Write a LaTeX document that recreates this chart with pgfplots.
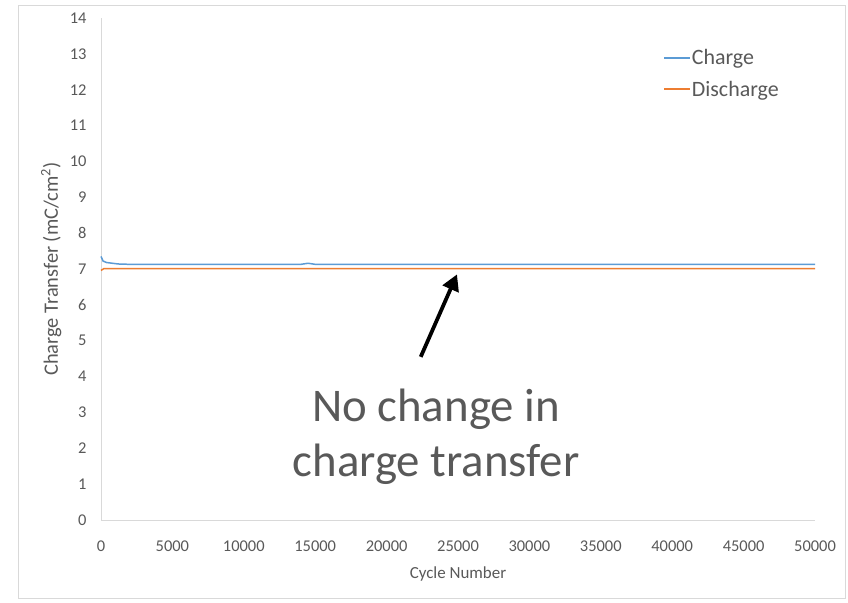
\documentclass[border=0pt]{standalone}
\usepackage{pgfplots}
\pgfplotsset{compat=1.18}
\usetikzlibrary{arrows.meta}
\usepackage{fontspec}
\setmainfont{Carlito}
\definecolor{xlblue}{HTML}{5B9BD5}
\definecolor{xlorange}{HTML}{ED7D31}
\definecolor{xltext}{HTML}{595959}
\definecolor{xlgrid}{HTML}{D9D9D9}

\begin{document}
\begin{tikzpicture}
\useasboundingbox (0,0) rectangle (848bp,603bp);
\fill[white] (0,0) rectangle (848bp,603bp);
\draw[xlgrid, line width=0.8pt] (18bp,5bp) rectangle (845bp,598bp);
\begin{axis}[
  at={(101bp,83bp)}, anchor=south west,
  scale only axis, width=714bp, height=502bp,
  xmin=0, xmax=50000, ymin=0, ymax=14,
  xtick={0,5000,...,50000}, ytick={0,1,...,14},
  scaled x ticks=false,
  /pgf/number format/fixed, /pgf/number format/1000 sep={},
  /pgf/number format/assume math mode=true,
  axis x line*=bottom, axis y line*=left,
  axis line style={xlgrid, line width=1pt, -},
  major tick length=0pt,
  tick label style={font=\fontsize{16.5}{19}\selectfont, text=xltext},
  xticklabel style={yshift=-17bp},
  yticklabel style={xshift=-11bp},
  xlabel={Cycle Number},
  ylabel={Charge Transfer (mC/cm\textsuperscript{2})},
  xlabel style={at={(rel axis cs:0.5,0)}, yshift=-43bp,
    font=\fontsize{17}{20}\selectfont, text=xltext},
  ylabel style={at={(rel axis cs:0,0.5)}, yshift=36bp,
    font=\fontsize{20.5}{24}\selectfont, text=xltext},
  legend style={at={(rel axis cs:0.787,0.94)}, anchor=north west, draw=none, fill=none,
    font=\fontsize{22}{26}\selectfont, row sep=13bp,
    inner sep=0pt, nodes={inner sep=1pt}},
  legend cell align=left,
  legend image code/.code={\draw[#1, line width=1.8pt] (0bp,0bp) -- (26bp,0bp);},
  clip=false,
]
\addplot[xlblue, line width=1.5pt] coordinates {
  (0,7.35) (150,7.22) (400,7.18) (800,7.16) (1200,7.14) (2000,7.13)
  (14000,7.13) (14500,7.16) (15000,7.13) (50000,7.13)};
\addlegendentry{\textcolor{xltext}{Charge}}
\addplot[xlorange, line width=1.5pt] coordinates {
  (0,6.96) (200,7.01) (1000,7.01) (50000,7.01)};
\addlegendentry{\textcolor{xltext}{Discharge}}
\draw[black, line width=3.8pt, -{Triangle[length=16bp, width=17bp]}]
  (axis cs:22390,4.55) -- (axis cs:24930,6.85);
\end{axis}
\node[anchor=base, text=xltext, font=\fontsize{47}{56}\selectfont, inner sep=0pt]
  at (436bp,181bp) {No change in};
\node[anchor=base, text=xltext, font=\fontsize{47}{56}\selectfont, inner sep=0pt]
  at (436bp,126bp) {charge transfer};
\end{tikzpicture}
\end{document}
